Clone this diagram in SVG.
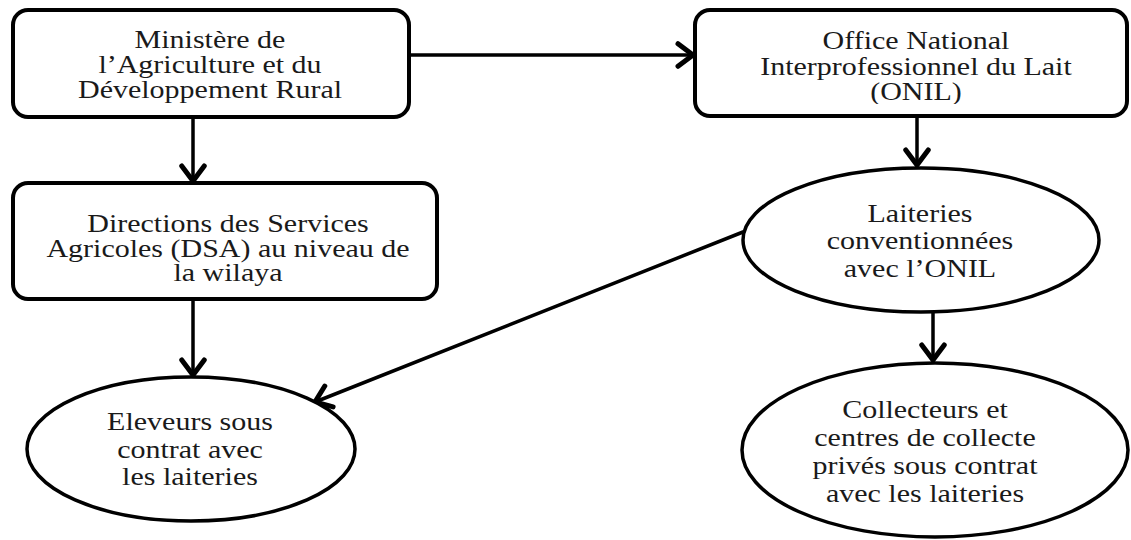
<svg xmlns="http://www.w3.org/2000/svg" width="1131" height="540" viewBox="0 0 1131 540">
<style>
.box{fill:#fff;stroke:#000;stroke-width:4}
.ell{fill:#fff;stroke:#000;stroke-width:3.5}
.lbl{font-family:"Liberation Serif","Times New Roman",serif;font-size:25px;fill:#1a1a1a;text-anchor:middle}
.con{stroke:#000;stroke-width:3.5;fill:none;stroke-linecap:round}
</style>
<defs>
<marker id="ah" markerUnits="userSpaceOnUse" markerWidth="30" markerHeight="30" viewBox="-16 -12 20 24" refX="0" refY="0" orient="auto">
<path d="M-12,-9 L0,0 L-12,9" fill="none" stroke="#000" stroke-width="4" stroke-linecap="round" stroke-linejoin="miter"/>
</marker>
<clipPath id="c1"><rect x="0" y="0" width="1131" height="104"/></clipPath>
</defs>
<g id="connectors">
<line class="con" x1="409" y1="55" x2="693" y2="55" marker-end="url(#ah)"/>
<line class="con" x1="193" y1="117" x2="193" y2="181" marker-end="url(#ah)"/>
<line class="con" x1="193" y1="299" x2="193" y2="375" marker-end="url(#ah)"/>
<line class="con" x1="917" y1="116" x2="917" y2="165" marker-end="url(#ah)"/>
<line class="con" x1="933" y1="312" x2="933" y2="360" marker-end="url(#ah)"/>
<line class="con" x1="743" y1="232" x2="315" y2="402" marker-end="url(#ah)"/>
</g>
<g id="n-ministere">
<rect class="box" x="13" y="10" width="396" height="107" rx="15"/>
<g clip-path="url(#c1)"><g transform="translate(210,0) scale(1.2,1)">
<text class="lbl" x="0" y="48">Ministère de</text>
<text class="lbl" x="0" y="73">l’Agriculture et du</text>
<text class="lbl" x="0" y="98">Développement Rural</text>
</g></g>
</g>
<g id="n-onil">
<rect class="box" x="695" y="10" width="432" height="106" rx="15"/>
<g clip-path="url(#c1)"><g transform="translate(916,0) scale(1.2,1)">
<text class="lbl" x="0" y="49">Office National</text>
<text class="lbl" x="0" y="75">Interprofessionnel du Lait</text>
<text class="lbl" x="0" y="100">(ONIL)</text>
</g></g>
</g>
<g id="n-dsa">
<rect class="box" x="13" y="183" width="424" height="116" rx="15"/>
<g transform="translate(228,0) scale(1.2,1)">
<text class="lbl" x="0" y="232">Directions des Services</text>
<text class="lbl" x="0" y="257">Agricoles (DSA) au niveau de</text>
<text class="lbl" x="0" y="281">la wilaya</text>
</g>
</g>
<g id="n-laiteries">
<ellipse class="ell" cx="921" cy="240" rx="178" ry="72"/>
<g transform="translate(920,0) scale(1.2,1)">
<text class="lbl" x="0" y="222">Laiteries</text>
<text class="lbl" x="0" y="249">conventionnées</text>
<text class="lbl" x="0" y="277">avec l’ONIL</text>
</g>
</g>
<g id="n-eleveurs">
<ellipse class="ell" cx="191" cy="449" rx="164" ry="72"/>
<g transform="translate(190,0) scale(1.2,1)">
<text class="lbl" x="0" y="430">Eleveurs sous</text>
<text class="lbl" x="0" y="458">contrat avec</text>
<text class="lbl" x="0" y="485">les laiteries</text>
</g>
</g>
<g id="n-collecteurs">
<ellipse class="ell" cx="935" cy="450" rx="193" ry="87"/>
<g transform="translate(925,0) scale(1.2,1)">
<text class="lbl" x="0" y="418">Collecteurs et</text>
<text class="lbl" x="0" y="446">centres de collecte</text>
<text class="lbl" x="0" y="474">privés sous contrat</text>
<text class="lbl" x="0" y="502">avec les laiteries</text>
</g>
</g>
</svg>
